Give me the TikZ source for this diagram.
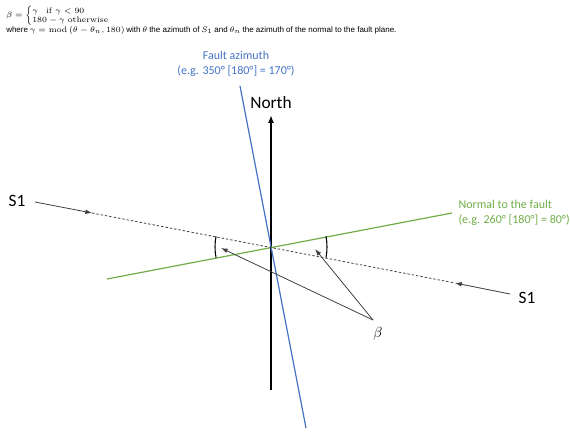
\documentclass[tikz,border=0pt]{standalone}
\usepackage{amssymb}
\usepackage{amsmath}
\usepackage[no-math]{fontspec}
\setmainfont{Carlito}
\newfontfamily\arialfont{Liberation Sans}
\usetikzlibrary{arrows.meta, positioning}
\usepackage{xcolor}
\definecolor{faultblue}{RGB}{68,114,196}
\definecolor{normalgreen}{RGB}{112,173,71}
\definecolor{pointergrey}{RGB}{64,64,64}

\begin{document}
\begin{tikzpicture}[x=0.75pt, y=0.75pt,
        pointer/.style={-{Latex[length=5pt,width=3.5pt]}, pointergrey, line width=0.6pt},
        trace/.style={pointergrey, line width=0.6pt, dash pattern=on 1.8pt off 1.5pt},
        azimuth/.style={line width=0.9pt},
        anglemark/.style={black, line width=0.8pt},
        label/.style={font=\fontsize{9}{11}\selectfont, inner sep=1pt}]
            \useasboundingbox (0,0) rectangle (570,435);
            % formula
            \node (formula) [anchor=north west, align=left, inner sep=0pt,
                font=\fontsize{6}{7.3}\selectfont] at (6,429)
                {\def\arraystretch{0.95}$\beta=\left\{\begin{array}{@{}l@{}}\gamma\quad\mathrm{if}\;\gamma<90\\ 180-\gamma\;\mathrm{otherwise}\end{array}\right.$\\[-0.5pt]
                {\arialfont where} $\gamma=\operatorname{mod}\left(\theta-\theta_n,180\right)$ {\arialfont with} $\theta$ {\arialfont the azimuth of} $S_1$ {\arialfont and} $\theta_n$ {\arialfont the azimuth of the normal to the fault plane.}};
            % crossing point
            \coordinate (o) at (271,188);
            % north
            \coordinate (n0) at (271,45);
            \coordinate (n1) at (271,320);
            \draw[line width=1.4pt, -{Latex[length=6pt,width=4.5pt]}] (n0) -- (n1);
            \node (north) [above=1pt of n1, font=\fontsize{13}{15}\selectfont] {North};
            % fault
            \coordinate (f0) at (240,349);
            \coordinate (f1) at (306,7);
            \draw[azimuth, faultblue] (f0) -- (f1);
            \node (fault) [label, faultblue, align=center] at (236,371) {Fault azimuth\\(e.g. 350° [180°] = 170°)};
            % normal
            \coordinate (g0) at (107,156);
            \coordinate (g1) at (452,222);
            \draw[azimuth, normalgreen] (g0) -- (g1);
            \node (normal) [label, normalgreen, align=left, anchor=west] at (457,222) {Normal to the fault\\(e.g. 260° [180°] = 80°)};
            % S1
            \node (s1left) [font=\fontsize{13}{15}\selectfont] at (17,234) {S1};
            \node (s1right) [font=\fontsize{13}{15}\selectfont] at (527,137) {S1};
            \coordinate (s1a) at (35,233);
            \coordinate (s1b) at (92,222);
            \coordinate (s2b) at (455,152);
            \coordinate (s2a) at (510,141);
            \draw[pointer] (s1a) -- (s1b);
            \draw[trace] (s1b) -- (s2b);
            \draw[pointer] (s2a) -- (s2b);
            % angles
            \draw[anglemark] (o) ++(169:56) arc[start angle=169, end angle=191, radius=56];
            \draw[anglemark] (o) ++(-11:56) arc[start angle=-11, end angle=11, radius=56];
            % beta
            \node (beta) [font=\fontsize{11}{13}\selectfont] at (378,101) {$\beta$};
            \coordinate (b0) at (373,115);
            \coordinate (bl) at (221,187);
            \coordinate (br) at (315,186);
            \draw[pointer] (b0) -- (bl);
            \draw[pointer] (b0) -- (br);
        \end{tikzpicture}
\end{document}
